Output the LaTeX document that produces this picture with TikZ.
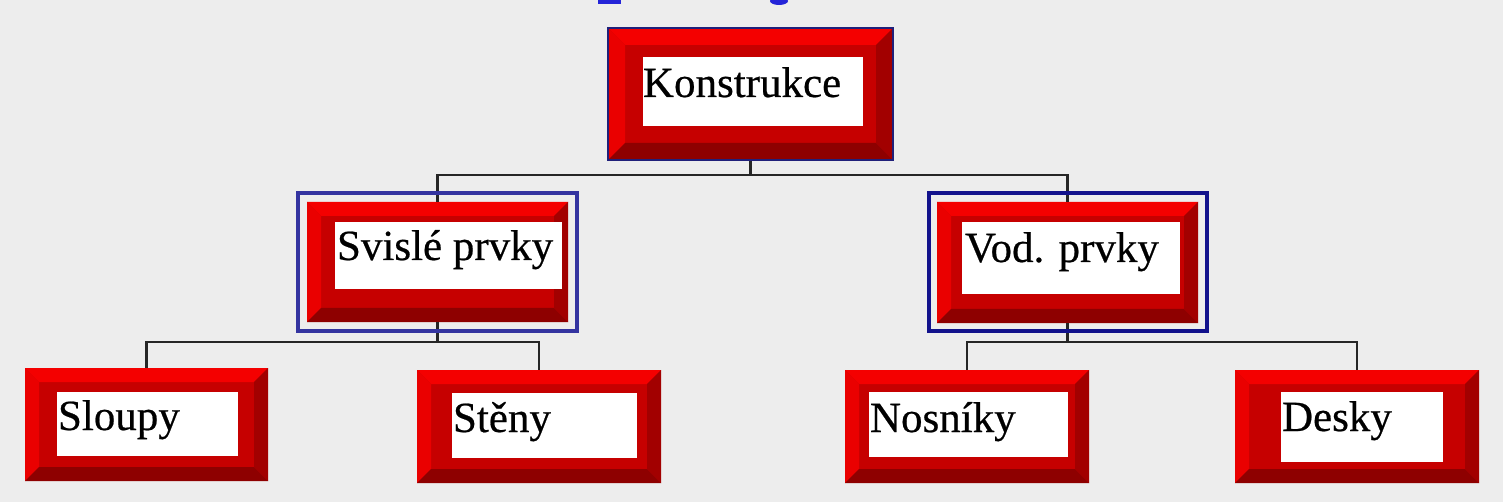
\documentclass[tikz,border=0pt]{standalone}
\usepackage{fontspec}
\setmainfont{Liberation Serif}
\newfontfamily\lblfont[FakeBold=0.5]{Liberation Serif}
\definecolor{bgc}{HTML}{EDEDED}
\definecolor{rtop}{HTML}{F40000}
\definecolor{rleft}{HTML}{EA0000}
\definecolor{rface}{HTML}{C60000}
\definecolor{rbot}{HTML}{8E0000}
\definecolor{rright}{HTML}{A20000}
\definecolor{frameA}{HTML}{3434A0}
\definecolor{frameB}{HTML}{12128C}
\definecolor{kline}{HTML}{20207A}
\definecolor{ttl}{HTML}{2424D8}
\tikzset{
  boxnode/.style={rectangle, inner sep=0pt, outer sep=0pt, draw=none},
  lbl/.style={inner sep=0pt, outer sep=0pt, anchor=base west, text=black,
              font=\lblfont\fontsize{43}{50}\selectfont},
  conn/.style={draw=black!85, line width=2.2pt},
  bframe/.style={line width=4pt}
}
% name, x1, y1, x2, y2, bevel, white corner 1, white corner 2, label
\newcommand\bevbox[9]{%
  \node[boxnode, minimum width={(#4-#2)*1pt}, minimum height={(#5-#3)*1pt}]
    (#1) at ({(#2+#4)/2},{(#3+#5)/2}) {};
  \fill[rface] (#2,#3) rectangle (#4,#5);
  \fill[rtop] (#2,#3) -- (#4,#3) -- ({#4-#6},{#3+#6}) -- ({#2+#6},{#3+#6}) -- cycle;
  \fill[rleft] (#2,#3) -- ({#2+#6},{#3+#6}) -- ({#2+#6},{#5-#6}) -- (#2,#5) -- cycle;
  \fill[rbot] (#2,#5) -- ({#2+#6},{#5-#6}) -- ({#4-#6},{#5-#6}) -- (#4,#5) -- cycle;
  \fill[rright] (#4,#3) -- (#4,#5) -- ({#4-#6},{#5-#6}) -- ({#4-#6},{#3+#6}) -- cycle;
  \fill[white] #7 rectangle #8;
  \node[lbl] (#1t) at #9;
}
\begin{document}
\begin{tikzpicture}[x=1pt,y=-1pt]
\useasboundingbox (0,0) rectangle (1503,502);
\fill[bgc] (0,0) rectangle (1503,502);
% cut-off title fragments at the top edge
\fill[ttl] (598,0) rectangle (621,4);
\fill[ttl] (779,1) ellipse [x radius=9pt, y radius=4pt];

% boxes
\bevbox{k}{608}{28}{893}{160}{17}{(643,57)}{(863,126)}{(643,97) {Konstrukce}}
\bevbox{sv}{307}{202}{568}{322}{14}{(335,222)}{(562,289)}{(337,260) {Svislé prvky}}
\bevbox{vo}{937}{202}{1198}{323}{14}{(962,222)}{(1180,294)}{(965,262) {Vod. prvky}}
\bevbox{sl}{25}{368}{268}{481}{14}{(57,392)}{(238,456)}{(58,430) {Sloupy}}
\bevbox{st}{417}{370}{661}{483}{14}{(452,393)}{(637,458)}{(453,432) {Stěny}}
\bevbox{no}{845}{370}{1089}{483}{14}{(869,392)}{(1068,457)}{(870,432) {Nosníky}}
\bevbox{de}{1235}{370}{1479}{483}{14}{(1281,392)}{(1443,462)}{(1282,431) {Desky}}

% connectors
\draw[conn] (k.south) -- ++(0,15) -| (sv.north);
\draw[conn] (k.south) -- ++(0,15) -| (vo.north);
\draw[conn] (sv.south) -- ++(0,20) -| (sl.north);
\draw[conn] (sv.south) -- ++(0,20) -| (st.north);
\draw[conn] (vo.south) -- ++(0,19) -| (no.north);
\draw[conn] (vo.south) -- ++(0,19) -| (de.north);

% outlines and frames
\draw[kline, line width=1.5pt] (k.north west) rectangle (k.south east);
\draw[frameA, bframe] (298,193) rectangle (577,331);
\draw[frameB, bframe] (929,193) rectangle (1207,331);
\end{tikzpicture}
\end{document}
